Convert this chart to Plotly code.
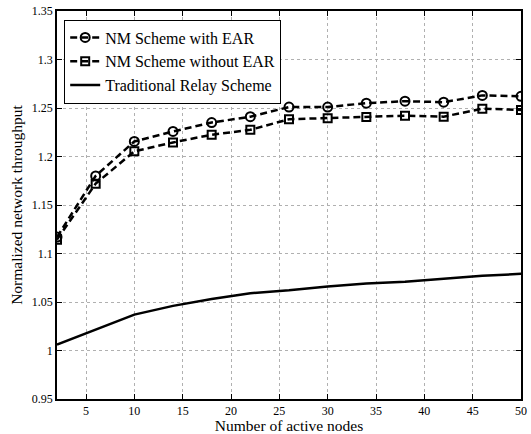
import plotly.graph_objects as go

nodes = [2, 6, 10, 14, 18, 22, 26, 30, 34, 38, 42, 46, 50]
with_ear = [1.117, 1.180, 1.2155, 1.2258, 1.235, 1.241, 1.251, 1.251, 1.255, 1.257, 1.256, 1.263, 1.262]
without_ear = [1.1143, 1.172, 1.2053, 1.2145, 1.2224, 1.2275, 1.2384, 1.2395, 1.2408, 1.2421, 1.2411, 1.2493, 1.248]
traditional = [1.006, 1.0215, 1.037, 1.046, 1.053, 1.059, 1.062, 1.066, 1.069, 1.071, 1.074, 1.077, 1.079]

y_ticks = [0.95, 1.0, 1.05, 1.1, 1.15, 1.2, 1.25, 1.3, 1.35]
y_labels = ["0.95", "1", "1.05", "1.1", "1.15", "1.2", "1.25", "1.3", "1.35"]
x_ticks = [5, 10, 15, 20, 25, 30, 35, 40, 45, 50]

fig = go.Figure()
fig.add_trace(go.Scatter(
    x=nodes, y=with_ear, name="NM Scheme with EAR", mode="lines+markers",
    line=dict(color="black", width=2.5, dash="7px,4px"),
    marker=dict(symbol="circle-open", size=9, color="black", line=dict(width=2, color="black")),
))
fig.add_trace(go.Scatter(
    x=nodes, y=without_ear, name="NM Scheme without EAR", mode="lines+markers",
    line=dict(color="black", width=2.5, dash="7px,4px"),
    marker=dict(symbol="square-open", size=8, color="black", line=dict(width=2, color="black")),
))
fig.add_trace(go.Scatter(
    x=nodes, y=traditional, name="Traditional Relay Scheme", mode="lines",
    line=dict(color="black", width=2.5),
))

font = "'Liberation Serif', 'Times New Roman', serif"
axis_common = dict(
    showline=True, linecolor="black", linewidth=1.5, mirror="ticks",
    ticks="inside", ticklen=5, tickcolor="black",
    showgrid=True, gridcolor="#b0b0b0", griddash="dot", gridwidth=1,
    zeroline=False, tickfont=dict(family=font, size=12, color="black"),
)

fig.update_layout(
    width=531, height=434,
    margin=dict(l=57, r=4, t=10, b=33),
    plot_bgcolor="white", paper_bgcolor="white",
    font=dict(family=font, color="black"),
    showlegend=True,
    legend=dict(
        x=0.0155, y=0.978, xanchor="left", yanchor="top",
        bgcolor="white", bordercolor="black", borderwidth=1,
        font=dict(family=font, size=16, color="black"),
        tracegroupgap=0, itemwidth=30,
    ),
    xaxis=dict(
        range=[2, 50], tickvals=x_ticks,
        title=dict(text="Number of active nodes", font=dict(family=font, size=15.5), standoff=1),
        **axis_common,
    ),
    yaxis=dict(
        range=[0.95, 1.35], tickvals=y_ticks, ticktext=y_labels,
        title=dict(text="Normalized network throughput", font=dict(family=font, size=15.5), standoff=5),
        **axis_common,
    ),
)

fig.write_html("out.html")
